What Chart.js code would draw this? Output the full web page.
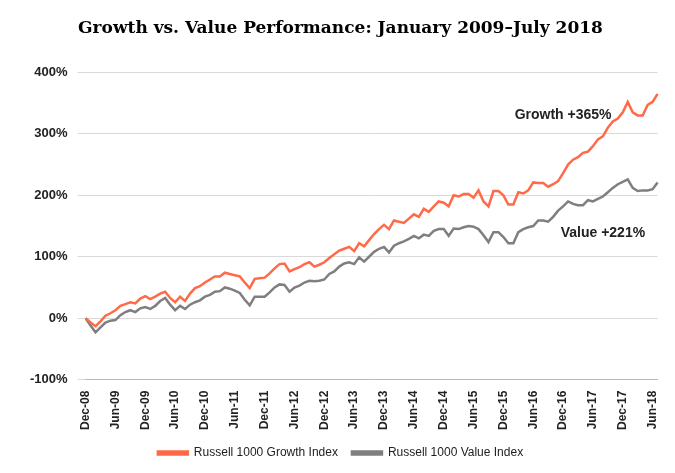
<!DOCTYPE html>
<html><head><meta charset="utf-8">
<script src="https://cdn.jsdelivr.net/npm/chart.js@4"></script>
<style>html,body{margin:0;padding:0;background:#fff}#w{width:675px;height:473px}</style>
</head><body><div id="w"><canvas id="c"></canvas></div>
<script>
const MONTHS=["Jan","Feb","Mar","Apr","May","Jun","Jul","Aug","Sep","Oct","Nov","Dec"];
const categories=[];
for(let i=0;i<116;i++){const mi=(11+i)%12;const yr=2008+Math.floor((11+i)/12);categories.push(MONTHS[mi]+"-"+String(yr).slice(2));}
const growth=[0,-7,-13,-5,4,8,13,20,23,26,24,32,36,31,35,40,43,33,26,35,28,40,49,52,58,63,68,68,74,72,70,68,58,49,64,65,66,73,81,88,89,76,80,83,88,91,84,87,91,98,104,110,113,116,109,122,117,127,137,145,152,145,159,157,155,162,169,165,178,173,182,190,188,182,200,198,202,202,196,208,190,182,207,207,200,185,185,205,203,208,221,220,220,214,218,223,236,250,258,262,269,271,280,291,296,310,320,325,335,352,335,330,330,347,352,365];
const value=[0,-12,-23,-15,-7,-4,-3,5,10,13,10,16,18,15,20,28,33,22,13,20,15,22,26,29,35,38,43,44,50,48,45,41,30,21,35,35,35,42,50,55,54,43,50,53,58,61,60,61,63,72,76,84,89,91,88,99,92,100,108,113,116,107,118,122,125,129,134,130,136,134,142,145,145,134,146,145,148,150,149,145,135,124,140,140,132,122,122,140,145,148,150,159,159,157,165,175,182,190,186,184,184,192,190,194,198,205,212,218,222,226,212,207,208,208,210,221];
const yTicks=[-100,0,100,200,300,400];
const notes=[{text:"Growth +365%",idx:96,val:330},{text:"Value +221%",idx:104,val:139}];
const notePlugin={id:'notes',afterDatasetsDraw(ch){const c=ch.ctx,x=ch.scales.x,y=ch.scales.y;c.save();c.font="bold 14px 'Liberation Sans', Arial";c.fillStyle="#222";c.textAlign="center";c.textBaseline="middle";notes.forEach(n=>c.fillText(n.text,x.getPixelForValue(n.idx),y.getPixelForValue(n.val)));c.restore();}};
new Chart(document.getElementById('c'),{type:'line',
data:{labels:categories,datasets:[
{label:'Russell 1000 Growth Index',data:growth,borderColor:'#FF6A48',backgroundColor:'#FF6A48',borderWidth:2.5,pointRadius:0,tension:0},
{label:'Russell 1000 Value Index',data:value,borderColor:'#7F7F7F',backgroundColor:'#7F7F7F',borderWidth:2.5,pointRadius:0,tension:0}]},
options:{responsive:true,maintainAspectRatio:false,animation:false,
layout:{padding:{left:20,right:14,top:4,bottom:4}},
plugins:{title:{display:true,text:'Growth vs. Value Performance: January 2009–July 2018',font:{family:"'DejaVu Serif', Georgia, serif",weight:'bold',size:17},color:'#000',padding:{top:14,bottom:34}},
legend:{position:'bottom',labels:{boxWidth:30,boxHeight:3,color:'#222',font:{family:"'Liberation Sans', Arial",size:12},padding:14}},tooltip:{enabled:false}},
scales:{x:{grid:{display:false},border:{color:'#bbb'},ticks:{autoSkip:false,maxRotation:90,minRotation:90,color:'#222',font:{family:"'Liberation Sans', Arial",weight:'bold',size:12},callback:(v,i)=>i%6===0?categories[i]:''}},
y:{min:-100,max:400,afterBuildTicks:s=>{s.ticks=yTicks.map(v=>({value:v}));},border:{display:false},grid:{color:'#d9d9d9'},ticks:{color:'#222',padding:10,font:{family:"'Liberation Sans', Arial",weight:'bold',size:13},callback:v=>v+'%'}}}},
plugins:[notePlugin]});
</script></body></html>
